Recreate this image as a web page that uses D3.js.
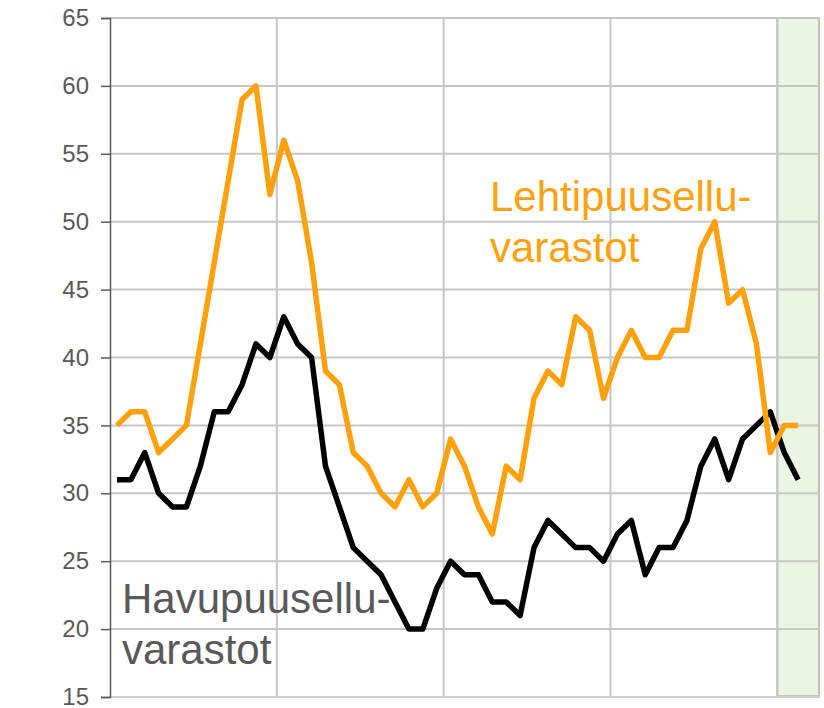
<!DOCTYPE html>
<html>
<head>
<meta charset="utf-8">
<script src="https://d3js.org/d3.v7.min.js"></script>
<style>
  body { margin: 0; background: #fff; }
</style>
</head>
<body>
<div id="chart"></div>
<script>
// months shown on the x axis (4 years + 3 months, last one has no value yet)
var years = ["2019", "2020", "2021", "2022", "2023"];
var months = [];
years.forEach(function(y) {
    for (var m = 1; m <= 12; m++) {
        if (y === "2023" && m > 3) break;
        months.push(y + "-" + m);
    }
});

// Havupuusellu (softwood pulp) stocks
var havu = [31, 31, 33, 30, 29, 29, 32, 36, 36, 38, 41, 40,
            43, 41, 40, 32, 29, 26, 25, 24, 22, 20, 20, 23,
            25, 24, 24, 22, 22, 21, 26, 28, 27, 26, 26, 25,
            27, 28, 24, 26, 26, 28, 32, 34, 31, 34, 35, 36,
            33, 31];

// Lehtipuusellu (hardwood pulp) stocks
var lehti = [35, 36, 36, 33, 34, 35, 41, 47, 53, 59, 60, 52,
             56, 53, 47, 39, 38, 33, 32, 30, 29, 31, 29, 30,
             34, 32, 29, 27, 32, 31, 37, 39, 38, 43, 42, 37,
             40, 42, 40, 40, 42, 42, 48, 50, 44, 45, 41, 33,
             35, 35];

var yTicks = [15, 20, 25, 30, 35, 40, 45, 50, 55, 60, 65];

function draw() {
    var w = 824;
    var h = 708;
    var left = 110, top = 18, right = 819, bottom = 697;

    var svg = d3.select("#chart")
        .append("svg")
        .attr("width", w)
        .attr("height", h)
        .style("font-family", "'Liberation Sans', Arial, sans-serif");

    // scales
    var x = d3.scaleBand()
        .domain(months)
        .range([left, right]);

    var y = d3.scaleLinear()
        .domain([15, 65])
        .range([bottom, top]);

    // shaded forecast area (last three months)
    svg.append("rect")
        .attr("x", x(months[48]))
        .attr("y", top)
        .attr("width", right - x(months[48]))
        .attr("height", bottom - top - 1)
        .attr("fill", "#ebf3e2")
        .attr("stroke", "#bfc6b8")
        .attr("stroke-width", 2);

    // horizontal grid
    svg.append("g")
        .selectAll("line")
        .data(yTicks.slice(1))
        .enter()
        .append("line")
        .attr("x1", left)
        .attr("x2", right)
        .attr("y1", function(d) { return y(d); })
        .attr("y2", function(d) { return y(d); })
        .attr("stroke", "#c6c6c6")
        .attr("stroke-width", 2);

    // vertical grid, one line per year
    svg.append("g")
        .selectAll("line")
        .data([12, 24, 36, 48])
        .enter()
        .append("line")
        .attr("x1", function(d) { return x(months[d]); })
        .attr("x2", function(d) { return x(months[d]); })
        .attr("y1", top)
        .attr("y2", bottom)
        .attr("stroke", "#c6c6c6")
        .attr("stroke-width", 2);

    // bottom axis line
    svg.append("line")
        .attr("x1", left)
        .attr("x2", right + 1)
        .attr("y1", bottom)
        .attr("y2", bottom)
        .attr("stroke", "#d0d0d0")
        .attr("stroke-width", 2);

    // y axis
    var yAxis = svg.append("g")
        .attr("transform", "translate(" + left + ",0)")
        .call(d3.axisLeft(y).tickValues(yTicks).tickSize(9).tickPadding(12));
    yAxis.select(".domain").attr("stroke", "#595959").attr("stroke-width", 1.5);
    yAxis.selectAll(".tick line").attr("stroke", "#595959").attr("stroke-width", 1.5);
    yAxis.selectAll("text")
        .attr("fill", "#595959")
        .style("font-size", "24px")
        .style("font-family", "'Liberation Sans', Arial, sans-serif");

    // series labels
    var lab1 = svg.append("text")
        .attr("x", 490)
        .attr("y", 211)
        .attr("fill", "#ffa10d")
        .style("font-size", "42px");
    lab1.append("tspan").attr("x", 490).text("Lehtipuusellu-");
    lab1.append("tspan").attr("x", 490).attr("dy", 51).text("varastot");

    var lab2 = svg.append("text")
        .attr("x", 122)
        .attr("y", 613)
        .attr("fill", "#595959")
        .style("font-size", "42px");
    lab2.append("tspan").attr("x", 122).text("Havupuusellu-");
    lab2.append("tspan").attr("x", 122).attr("dy", 51).text("varastot");

    // lines
    var line = d3.line()
        .x(function(d, i) { return x(months[i]) + x.bandwidth() / 2; })
        .y(function(d) { return y(d); });

    svg.append("path")
        .datum(havu)
        .attr("d", line)
        .attr("fill", "none")
        .attr("stroke", "#000")
        .attr("stroke-width", 5.5)
        .attr("stroke-linejoin", "round");

    svg.append("path")
        .datum(lehti)
        .attr("d", line)
        .attr("fill", "none")
        .attr("stroke", "#ffa10d")
        .attr("stroke-width", 5.5)
        .attr("stroke-linejoin", "round");
}

window.onload = draw;
</script>
</body>
</html>
